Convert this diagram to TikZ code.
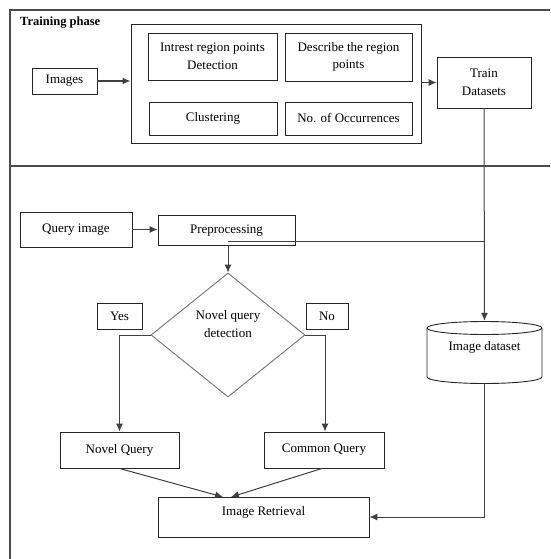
\documentclass[tikz,border=0pt]{standalone}
\usepackage{fontspec}
\setmainfont{Liberation Serif}
\usetikzlibrary{shapes.geometric,arrows.meta}
\begin{document}
\begin{tikzpicture}[x=1pt,y=-1pt,
  txt/.style={font=\fontsize{13}{17.5}\selectfont, align=center, inner sep=0},
  box/.style={txt, draw=black!85, line width=0.9pt},
  frame/.style={draw=black!70, line width=1.2pt},
  conn/.style={draw=black!75, line width=1pt},
  arr/.style={conn, -{Latex[length=8pt,width=7pt]}}]
\useasboundingbox (0,0) rectangle (550,559);
% frame
\draw[frame] (550,10) -- (10,10) -- (10,559);
\draw[frame] (10,166) -- (550,166);
\node[txt, font=\bfseries\fontsize{12.5}{15}\selectfont, anchor=west] (title) at (20,23) {Training phase};
% training phase
\node[box, minimum width=65, minimum height=26] (img) at (64.5,81) {Images};
\node[box, minimum width=290, minimum height=119] (big) at (276,83.5) {};
\node[box, minimum width=129, minimum height=47] (intr) at (212.5,56.5) {Intrest region points\\Detection};
\node[box, minimum width=127, minimum height=48] (desc) at (348.5,57) {Describe the region\\points};
\node[box, minimum width=128, minimum height=33] (clus) at (213,118.5) {Clustering};
\node[box, minimum width=127, minimum height=33] (occ) at (348.5,118.5) {No. of Occurrences};
\node[box, minimum width=94, minimum height=51] (train) at (484,82.5) {Train\\Datasets};
\draw[arr, line width=1.4pt] (img.east) -- (big.west |- img.east);
\draw[arr] (big.east |- train.west) -- (train.west);
% query phase
\node[box, minimum width=112, minimum height=35] (query) at (76,229.5) {Query image};
\node[box, minimum width=137, minimum height=30] (prep) at (226.5,230.5) {Preprocessing};
\node[diamond, draw=black!55, line width=0.9pt, minimum width=154, minimum height=124, inner sep=0, aspect=1.24] (dia) at (228,335) {};
\node[txt] (dtxt) at (228,324) {Novel query\\detection};
\node[box, minimum width=45, minimum height=26] (yes) at (119.5,316) {Yes};
\node[box, minimum width=42, minimum height=26] (no) at (327,316) {No};
\node[box, minimum width=119, minimum height=36] (nq) at (119.5,450) {Novel Query};
\node[box, minimum width=120, minimum height=36] (cq) at (324,450) {Common Query};
\node[box, minimum width=211, minimum height=40] (ret) at (263.5,517) {};
\node[txt] (rettxt) at (263.5,512) {Image Retrieval};
% cylinder
\node[minimum width=115, minimum height=62, inner sep=0] (ds) at (484.5,352) {};
\draw[draw=black!85, line width=0.9pt, fill=white] (427,328) -- (427,377)
  arc[start angle=180, end angle=0, x radius=57.5, y radius=6.5] -- (542,328);
\draw[draw=black!85, line width=0.9pt] (484.5,328) ellipse [x radius=57.5, y radius=6.5];
\node[txt] (dstxt) at (484.5,347) {Image dataset};
% connectors
\draw[arr] (train.south) -- (ds.north);
\draw[arr] (query.east) -- (prep.west |- query.east);
\draw[arr] (dia.north |- prep.south) -- (dia.north);
\coordinate (j) at ([yshift=4]dia.north |- prep.south);
\draw[conn] (j) -- (j -| train.south);
\draw[arr] (dia.west) -| (nq.north);
\draw[arr] (dia.east) -| ([xshift=1]cq.north);
\coordinate (r1) at (223,497);
\coordinate (r2) at (231,497);
\draw[arr] (nq.south) -- (r1);
\draw[arr] ([xshift=-2]cq.south) -- (r2);
\draw[arr] (ds.south) |- (ret.east);
\end{tikzpicture}
\end{document}
